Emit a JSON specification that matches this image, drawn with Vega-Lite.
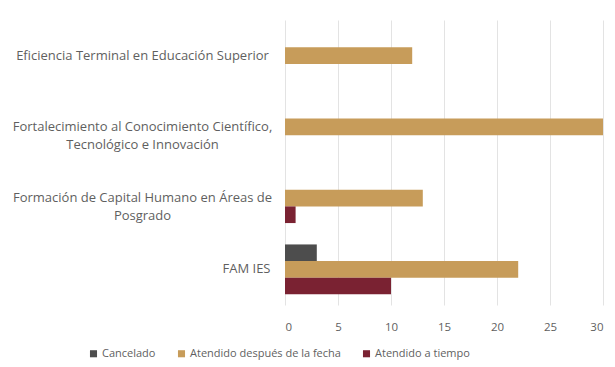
{
  "$schema": "https://vega.github.io/schema/vega-lite/v6.json",
  "width": 318,
  "height": 285,
  "autosize": "none",
  "padding": {"left": 285, "top": 20, "right": 12, "bottom": 62},
  "background": "white",
  "config": {"view": {"stroke": null}, "font": "Open Sans"},
  "data": {
    "values": [
      {"categoria": "Eficiencia Terminal en Educación Superior", "serie": "Cancelado", "valor": 0},
      {"categoria": "Eficiencia Terminal en Educación Superior", "serie": "Atendido después de la fecha", "valor": 12},
      {"categoria": "Eficiencia Terminal en Educación Superior", "serie": "Atendido a tiempo", "valor": 0},
      {"categoria": "Fortalecimiento al Conocimiento Científico, Tecnológico e Innovación", "serie": "Cancelado", "valor": 0},
      {"categoria": "Fortalecimiento al Conocimiento Científico, Tecnológico e Innovación", "serie": "Atendido después de la fecha", "valor": 30},
      {"categoria": "Fortalecimiento al Conocimiento Científico, Tecnológico e Innovación", "serie": "Atendido a tiempo", "valor": 0},
      {"categoria": "Formación de Capital Humano en Áreas de Posgrado", "serie": "Cancelado", "valor": 0},
      {"categoria": "Formación de Capital Humano en Áreas de Posgrado", "serie": "Atendido después de la fecha", "valor": 13},
      {"categoria": "Formación de Capital Humano en Áreas de Posgrado", "serie": "Atendido a tiempo", "valor": 1},
      {"categoria": "FAM IES", "serie": "Cancelado", "valor": 3},
      {"categoria": "FAM IES", "serie": "Atendido después de la fecha", "valor": 22},
      {"categoria": "FAM IES", "serie": "Atendido a tiempo", "valor": 10}
    ]
  },
  "mark": {"type": "bar"},
  "encoding": {
    "y": {
      "field": "categoria",
      "type": "nominal",
      "sort": [
        "Eficiencia Terminal en Educación Superior",
        "Fortalecimiento al Conocimiento Científico, Tecnológico e Innovación",
        "Formación de Capital Humano en Áreas de Posgrado",
        "FAM IES"
      ],
      "scale": {"paddingInner": 0.3, "paddingOuter": 0.15},
      "axis": {
        "title": null,
        "domain": false,
        "ticks": false,
        "labelFontSize": 13,
        "labelColor": "#5f5f5f",
        "labelLimit": 300,
        "labelLineHeight": 18,
        "labelAlign": {"condition": {"test": "datum.value == 'FAM IES'", "value": "right"}, "value": "center"},
        "labelPadding": {"condition": {"test": "datum.value == 'FAM IES'", "value": 15}, "value": 143},
        "labelExpr": "datum.value == 'Fortalecimiento al Conocimiento Científico, Tecnológico e Innovación' ? ['Fortalecimiento al Conocimiento Científico,', 'Tecnológico e Innovación'] : datum.value == 'Formación de Capital Humano en Áreas de Posgrado' ? ['Formación de Capital Humano en Áreas de', 'Posgrado'] : datum.value"
      }
    },
    "yOffset": {
      "field": "serie",
      "type": "nominal",
      "sort": ["Cancelado", "Atendido después de la fecha", "Atendido a tiempo"],
      "scale": {"paddingInner": 0, "paddingOuter": 0}
    },
    "x": {
      "field": "valor",
      "type": "quantitative",
      "scale": {"domain": [0, 30], "nice": false},
      "axis": {
        "title": null,
        "values": [0, 5, 10, 15, 20, 25, 30],
        "domain": false,
        "ticks": false,
        "grid": true,
        "gridColor": "#e3e3e3",
        "labelPadding": 16,
        "labelFontSize": 11.5,
        "labelColor": "#5f5f5f"
      }
    },
    "color": {
      "field": "serie",
      "type": "nominal",
      "sort": ["Cancelado", "Atendido después de la fecha", "Atendido a tiempo"],
      "scale": {
        "domain": ["Cancelado", "Atendido después de la fecha", "Atendido a tiempo"],
        "range": ["#4d4d4d", "#c79c5a", "#7a2232"]
      },
      "legend": {
        "title": null,
        "orient": "none",
        "legendX": -197,
        "legendY": 328,
        "direction": "horizontal",
        "symbolType": "square",
        "symbolSize": 50,
        "symbolStrokeWidth": 0,
        "labelFontSize": 11,
        "labelColor": "#5f5f5f",
        "labelOffset": 3,
        "columnPadding": 20,
        "labelLimit": 250
      }
    }
  }
}
